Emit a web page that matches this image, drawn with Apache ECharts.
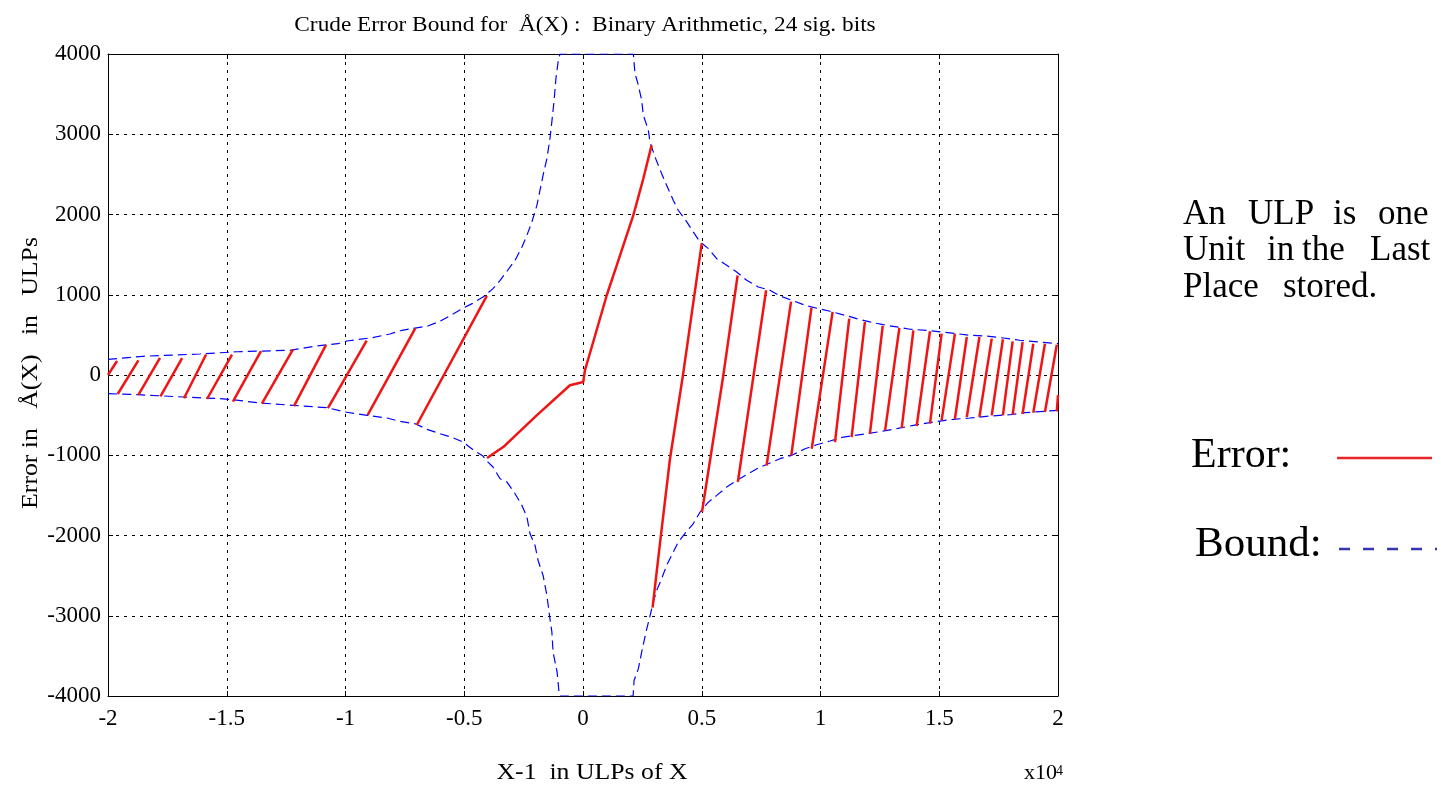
<!DOCTYPE html>
<html>
<head>
<meta charset="utf-8">
<script src="https://cdn.jsdelivr.net/npm/echarts@6/dist/echarts.min.js"></script>
<style>
html,body{margin:0;padding:0;background:#fff;}
#chart{width:1441px;height:785px;}
</style>
</head>
<body>
<div id="chart"></div>
<script>
// ---- Data (x in units of 1e4 ULPs, y in ULPs) ----
const xTicks = [-2, -1.5, -1, -0.5, 0, 0.5, 1, 1.5, 2];
const yTicks = [-4000, -3000, -2000, -1000, 0, 1000, 2000, 3000, 4000];

const upperBoundX = [-2.000,-1.853,-1.613,-1.457,-1.234,-1.120,-1.032,-0.994,-0.888,-0.813,-0.762,-0.653,-0.602,-0.552,-0.509,-0.467,-0.421,-0.379,-0.349,-0.320,-0.286,-0.257,-0.236,-0.215,-0.194,-0.181,-0.168,-0.152,-0.139,-0.131,-0.122,-0.114,-0.105,-0.097,
  0.212,0.219,0.233,0.247,0.254,0.275,0.282,0.303,0.331,0.352,0.380,0.401,0.437,0.464,0.493,0.528,0.563,0.605,0.647,0.689,0.738,0.787,0.829,0.879,0.935,0.991,1.040,1.103,1.152,1.208,1.264,1.321,1.377,1.447,1.510,1.573,1.629,1.700,1.770,1.840,1.924,2.000];
const upperBoundY = [195,233,262,290,308,362,390,424,465,511,557,611,670,752,827,889,972,1076,1180,1293,1430,1596,1742,1908,2116,2303,2490,2698,2948,3160,3410,3695,3900,4000,
  4000,3757,3612,3425,3238,3051,2905,2718,2510,2365,2178,2053,1908,1783,1658,1575,1450,1367,1284,1180,1097,1056,985,931,869,827,794,744,702,661,627,599,570,557,536,515,495,486,461,433,411,390];

const lowerBoundX = [-1.999,-1.874,-1.684,-1.528,-1.474,-1.360,-1.221,-1.078,-1.002,-0.909,-0.825,-0.771,-0.707,-0.657,-0.602,-0.547,-0.505,-0.463,-0.421,-0.400,-0.379,-0.349,-0.320,-0.286,-0.257,-0.236,-0.223,-0.202,-0.189,-0.168,-0.152,-0.139,-0.131,-0.126,-0.109,-0.101,-0.097,
  0.211,0.215,0.233,0.247,0.265,0.279,0.296,0.310,0.331,0.352,0.373,0.401,0.434,0.464,0.493,0.528,0.563,0.605,0.647,0.689,0.738,0.780,0.829,0.879,0.935,0.984,1.040,1.096,1.195,1.258,1.321,1.391,1.447,1.503,1.559,1.629,1.714,1.798,1.861,2.000];
const lowerBoundY = [-233,-245,-274,-295,-308,-349,-378,-407,-461,-503,-536,-578,-607,-677,-732,-782,-835,-931,-1010,-1085,-1147,-1293,-1334,-1480,-1625,-1771,-1979,-2124,-2311,-2498,-2747,-3039,-3205,-3454,-3703,-3953,-4000,
  -4000,-3807,-3662,-3454,-3205,-3039,-2830,-2685,-2540,-2373,-2248,-2082,-1958,-1854,-1708,-1584,-1500,-1397,-1313,-1243,-1160,-1106,-1043,-1001,-919,-869,-823,-773,-732,-702,-669,-627,-599,-574,-552,-536,-511,-495,-470,-440];

// error teeth; null separates teeth (the drops are not drawn)
const errorX = [
  -2.000,-1.962,null, -1.959,-1.872,null, -1.872,-1.781,null, -1.779,-1.688,null,
  -1.680,-1.587,null, -1.583,-1.478,null, -1.474,-1.356,null, -1.352,-1.221,null,
  -1.217,-1.082,null, -1.074,-0.911,null, -0.907,-0.707,null, -0.700,-0.405,null,
  -0.404,-0.336,-0.195,-0.055,0.001,0.008,0.043,0.100,0.142,0.212,0.254,0.289,null,
  0.293,0.324,0.366,0.421,0.500,null,
  0.501,0.591,0.651,null, 0.652,0.771,null, 0.773,0.876,null, 0.877,0.962,null,
  0.963,1.051,null, 1.061,1.121,null, 1.131,1.187,null, 1.208,1.262,null,
  1.272,1.332,null, 1.342,1.391,null, 1.405,1.461,null, 1.461,1.510,null,
  1.510,1.566,null, 1.566,1.616,null, 1.616,1.669,null, 1.669,1.721,null,
  1.721,1.768,null, 1.768,1.809,null, 1.809,1.851,null, 1.851,1.896,null,
  1.896,1.945,null, 1.945,1.995,null, 1.995,2.000
];
const errorY = [
  0,175,null, -237,183,null, -249,213,null, -266,210,null,
  -290,255,null, -299,255,null, -332,297,null, -358,318,null,
  -388,375,null, -413,428,null, -499,577,null, -623,985,null,
  -1035,-898,-503,-128,-87,58,411,994,1367,1991,2448,2864,null,
  -2900,-2100,-1050,0,1640,null,
  -1708,0,1240,null, -1334,1056,null, -1127,915,null, -1001,840,null,
  -919,786,null, -836,702,null, -773,661,null, -732,611,null,
  -690,586,null, -661,557,null, -636,545,null, -607,515,null,
  -565,515,null, -545,474,null, -524,474,null, -524,453,null,
  -503,445,null, -503,420,null, -495,411,null, -483,390,null,
  -470,390,null, -461,378,null, -453,-250
];

// ---- Build series data ----
const errorData = errorX.map((x, i) => (x === null ? ['-', '-'] : [x, errorY[i]]));
const upperData = upperBoundX.map((x, i) => [x, upperBoundY[i]]);
const lowerData = lowerBoundX.map((x, i) => [x, lowerBoundY[i]]);

const SERIF = '"Liberation Serif", "Times New Roman", serif';
const chart = echarts.init(document.getElementById('chart'), null, {renderer: 'canvas'});

const gridLine = {show: true, lineStyle: {color: '#000', width: 1, type: [3, 5]}};
const boxLine = {show: true, onZero: false, lineStyle: {color: '#000', width: 1}};
const inTick = {show: true, inside: true, length: 5, lineStyle: {color: '#000'}};

function word(text, x, y, size) {
  return {type: 'text', style: {text: text, x: x, y: y, font: size + 'px ' + SERIF, fill: '#000', align: 'left', verticalAlign: 'middle'}};
}
function stretched(text, x, y, size, sx, rot) {
  return {type: 'text', x: x, y: y, rotation: rot || 0, scaleX: sx,
    style: {text: text, x: 0, y: 0, font: size + 'px ' + SERIF, fill: '#000', align: 'center', verticalAlign: 'middle'}};
}

chart.setOption({
  animation: false,
  backgroundColor: '#fff',
  grid: {left: 108, right: 383, top: 54, bottom: 89, containLabel: false},
  xAxis: [{
    type: 'value', min: -2, max: 2, interval: 0.5, position: 'bottom',
    axisLine: boxLine, axisTick: inTick, splitLine: gridLine,
    axisLabel: {fontFamily: SERIF, fontSize: 23, color: '#000', margin: 11,
      formatter: v => (xTicks.indexOf(v) >= 0 ? String(v) : '')}
  }, {
    type: 'value', min: -2, max: 2, interval: 0.5, position: 'top',
    axisLine: boxLine, axisTick: inTick, axisLabel: {show: false}, splitLine: {show: false}
  }],
  yAxis: [{
    type: 'value', min: -4000, max: 4000, interval: 1000, position: 'left',
    axisLine: boxLine, axisTick: inTick, splitLine: gridLine,
    axisLabel: {fontFamily: SERIF, fontSize: 23, color: '#000', margin: 7,
      formatter: v => (yTicks.indexOf(v) >= 0 ? String(v) : '')}
  }, {
    type: 'value', min: -4000, max: 4000, interval: 1000, position: 'right',
    axisLine: boxLine, axisTick: inTick, axisLabel: {show: false}, splitLine: {show: false}
  }],
  series: [
    {name: 'Bound', type: 'line', data: upperData, showSymbol: false, symbol: 'none', clip: true,
     lineStyle: {color: '#0000ff', width: 1.2, type: [9, 5]}, z: 3},
    {name: 'Bound', type: 'line', data: lowerData, showSymbol: false, symbol: 'none', clip: true,
     lineStyle: {color: '#0000ff', width: 1.2, type: [9, 5]}, z: 3},
    {name: 'Error', type: 'line', data: errorData, showSymbol: false, symbol: 'none', clip: true,
     connectNulls: false, lineStyle: {color: '#f01414', width: 2.5}, z: 4}
  ],
  graphic: [
    stretched('Crude Error Bound for  Å(X) :  Binary Arithmetic, 24 sig. bits', 585, 25, 21, 1.11),
    stretched('X-1  in ULPs of X', 592, 773, 23, 1.12),
    stretched('Error in   Å(X)   in   ULPs', 31, 373, 23, 1.12, Math.PI / 2),
    {type: 'text', style: {text: 'x10', x: 1024, y: 773, font: '22px ' + SERIF, fill: '#000', verticalAlign: 'middle'}},
    {type: 'text', style: {text: '4', x: 1056, y: 771, font: '14px ' + SERIF, fill: '#000', verticalAlign: 'middle'}},
    word('An', 1183, 215, 35), word('ULP', 1248, 215, 35), word('is', 1333, 215, 35), word('one', 1378, 215, 35),
    word('Unit', 1183, 251, 35), word('in', 1267, 251, 35), word('the', 1302, 251, 35), word('Last', 1370, 251, 35),
    word('Place', 1183, 288, 35), word('stored.', 1283, 288, 35),
    word('Error:', 1191, 456, 42),
    word('Bound:', 1195, 545, 43),
    {type: 'line', shape: {x1: 1337, y1: 458, x2: 1432, y2: 458}, style: {stroke: '#e8262a', lineWidth: 2.5}},
    {type: 'line', shape: {x1: 1339, y1: 549, x2: 1437, y2: 549}, style: {stroke: '#3636b0', lineWidth: 2.5, lineDash: [11, 13]}}
  ]
});
</script>
</body>
</html>
